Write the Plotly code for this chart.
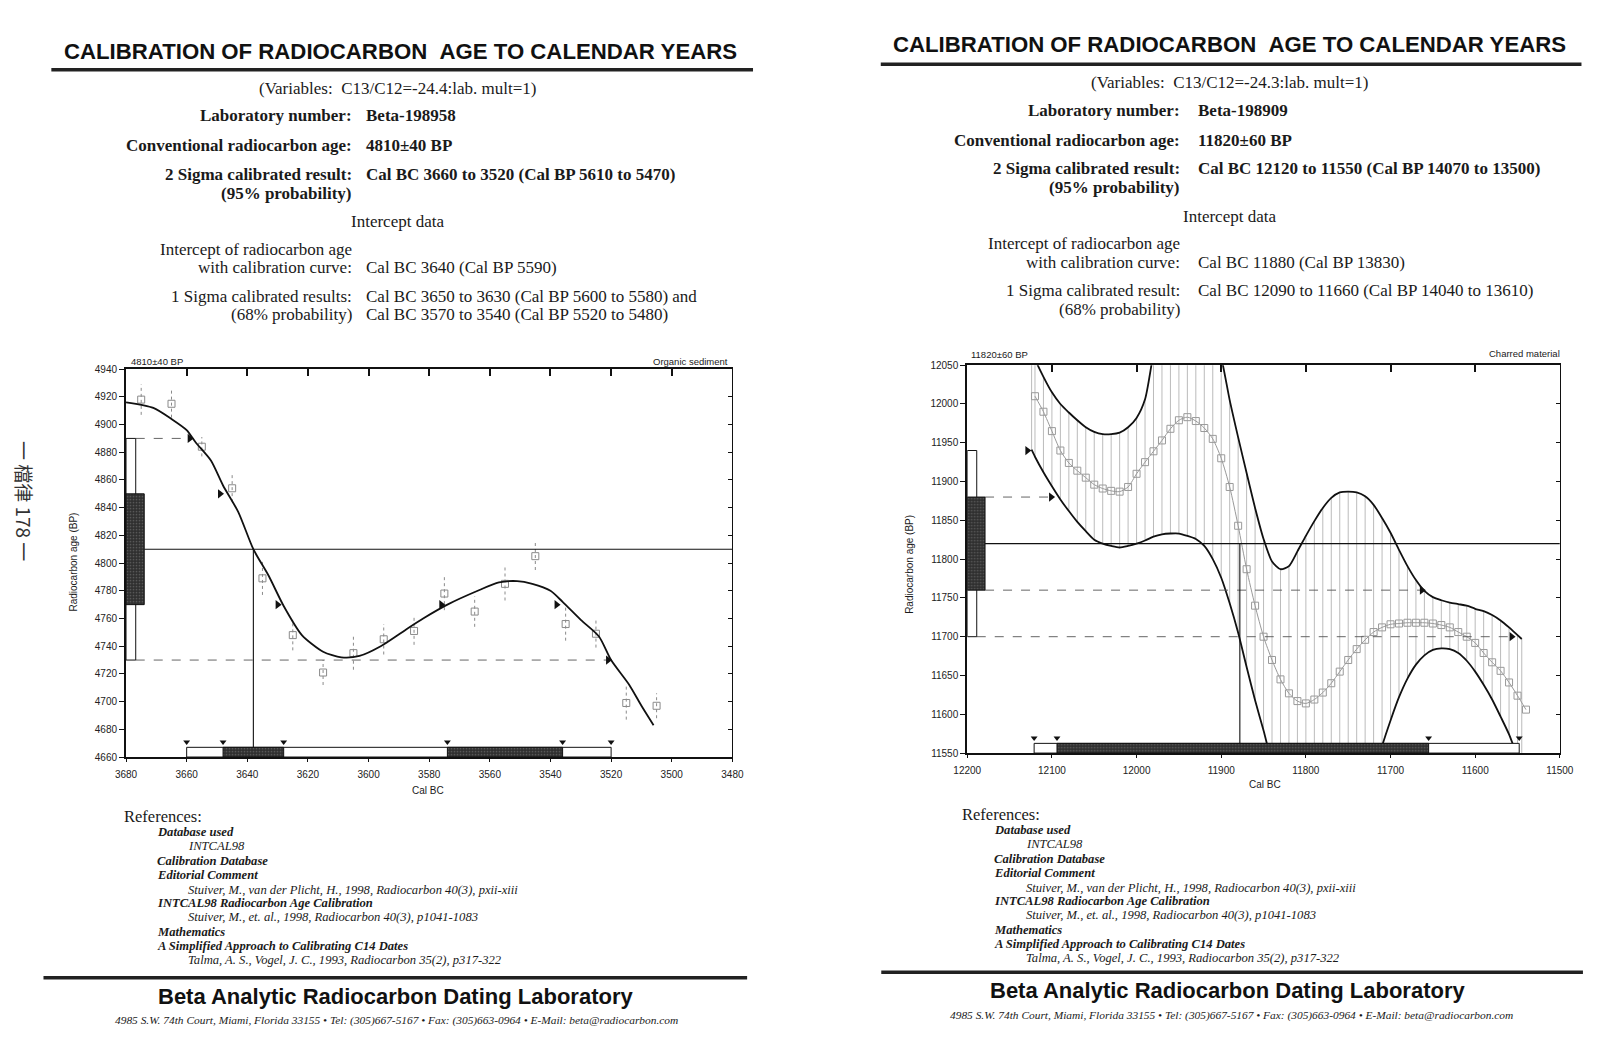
import plotly.graph_objects as go

W, H = 1622, 1048
SERIF = "Liberation Serif, Times New Roman, serif"
SANS = "Liberation Sans, Arial, sans-serif"
CJK = "Noto Sans CJK TC, Noto Sans CJK SC, sans-serif"
INK = "#1a1a1a"

# ======================= DATA : left report (Beta-198958) =======================
TITLE = "CALIBRATION OF RADIOCARBON\u00a0\u00a0AGE TO CALENDAR YEARS"
L_variables = "(Variables:\u00a0\u00a0C13/C12=-24.4:lab. mult=1)"
L_lab = "Beta-198958"
L_conv = "4810±40 BP"
L_sig2_txt = "Cal BC 3660 to 3520 (Cal BP 5610 to 5470)"
L_int_txt = "Cal BC 3640 (Cal BP 5590)"
L_sig1_label = "1 Sigma calibrated results:"
L_sig1_txt = ["Cal BC 3650 to 3630 (Cal BP 5600 to 5580) and",
              "Cal BC 3570 to 3540 (Cal BP 5520 to 5480)"]
L_material = "Organic sediment"

L_age, L_sigma = 4810, 40
L_xrange = [3680, 3480]
L_yrange = [4660, 4940]
L_xticks = [3680, 3660, 3640, 3620, 3600, 3580, 3560, 3540, 3520, 3500, 3480]
L_yticks = [4660, 4680, 4700, 4720, 4740, 4760, 4780, 4800, 4820, 4840, 4860,
            4880, 4900, 4920, 4940]
L_curve_year = [3680, 3671, 3665, 3660, 3657, 3652, 3648, 3643, 3638, 3633, 3628,
                3622, 3615, 3609, 3603, 3596, 3587, 3582, 3574, 3564, 3557, 3551,
                3546, 3540, 3536, 3530, 3524, 3520, 3514, 3510, 3506]
L_curve_age = [4916, 4912, 4904, 4896, 4887, 4874, 4856, 4837, 4810, 4791, 4769,
               4748, 4736, 4732, 4733, 4740, 4753, 4760, 4770, 4780, 4786, 4787,
               4785, 4780, 4772, 4759, 4747, 4730, 4712, 4697, 4683]
L_dec_year = [3675, 3665, 3655, 3645, 3635, 3625, 3615, 3605, 3595, 3585, 3575,
              3565, 3555, 3545, 3535, 3525, 3515, 3505]
L_dec_age = [4918, 4915, 4884, 4854, 4789, 4748, 4721, 4735, 4745, 4751, 4778,
             4765, 4785, 4805, 4756, 4749, 4699, 4697]
L_dec_err = [11, 10, 7, 10, 12, 11, 9, 12, 11, 10, 12, 11, 12, 10, 12, 10, 12, 9]
L_intercept = 3638
L_sig2_ranges = [[3660, 3520]]
L_sig1_ranges = [[3648, 3628], [3574, 3536]]
L_arrow_year = [3659, 3649, 3630, 3576, 3538, 3521]
L_arrow_age = [4890, 4850, 4770, 4770, 4770, 4730]
L_dash_age = [4890, 4730]
L_dash_end = [3659, 3521]

# ======================= DATA : right report (Beta-198909) =======================
R_variables = "(Variables:\u00a0\u00a0C13/C12=-24.3:lab. mult=1)"
R_lab = "Beta-198909"
R_conv = "11820±60 BP"
R_sig2_txt = "Cal BC 12120 to 11550 (Cal BP 14070 to 13500)"
R_int_txt = "Cal BC 11880 (Cal BP 13830)"
R_sig1_label = "1 Sigma calibrated result:"
R_sig1_txt = ["Cal BC 12090 to 11660 (Cal BP 14040 to 13610)", ""]
R_material = "Charred material"

R_age, R_sigma = 11820, 60
R_xrange = [12200, 11500]
R_yrange = [11550, 12050]
R_xticks = [12200, 12100, 12000, 11900, 11800, 11700, 11600, 11500]
R_yticks = [11550, 11600, 11650, 11700, 11750, 11800, 11850, 11900, 11950, 12000, 12050]
R_env_year = [12124, 12120, 12110, 12100, 12090, 12080, 12070, 12060, 12050, 12040,
              12030, 12020, 12010, 12000, 11990, 11980, 11970, 11960, 11950, 11940,
              11930, 11920, 11910, 11900, 11890, 11880, 11870, 11860, 11850, 11840,
              11830, 11820, 11810, 11800, 11790, 11780, 11770, 11760, 11750, 11740,
              11730, 11720, 11710, 11700, 11690, 11680, 11670, 11660, 11650, 11640,
              11630, 11620, 11610, 11600, 11590, 11580, 11570, 11560, 11550, 11545]
R_upper = [12075, 12058, 12035, 12015, 12000, 11989, 11979, 11970, 11964, 11961,
           11961, 11963, 11970, 11982, 12006, 12065, 12110, 12140, 12160, 12165,
           12155, 12130, 12095, 12060, 12005, 11957, 11911, 11866, 11826, 11797,
           11787, 11791, 11810, 11830, 11849, 11866, 11879, 11886, 11887, 11886,
           11881, 11870, 11853, 11834, 11812, 11791, 11773, 11759, 11751, 11747,
           11744, 11742, 11740, 11736, 11733, 11728, 11721, 11712, 11702, 11697]
R_lower = [11941, 11932, 11912, 11894, 11877, 11862, 11848, 11836, 11825, 11820,
           11817, 11815, 11817, 11820, 11824, 11829, 11832, 11833, 11833, 11830,
           11826, 11817, 11800, 11776, 11743, 11705, 11661, 11618, 11579, 11537,
           11505, 11480, 11460, 11445, 11435, 11430, 11430, 11435, 11445, 11462,
           11487, 11520, 11559, 11592, 11622, 11646, 11664, 11676, 11683, 11685,
           11684, 11679, 11669, 11655, 11638, 11619, 11597, 11574, 11545, 11530]
R_curve_year = [12120, 12110, 12100, 12090, 12080, 12070, 12060, 12050, 12040, 12030,
                12020, 12010, 12000, 11990, 11980, 11970, 11960, 11950, 11940, 11930,
                11920, 11910, 11900, 11890, 11880, 11870, 11860, 11850, 11840, 11830,
                11820, 11810, 11800, 11790, 11780, 11770, 11760, 11750, 11740, 11730,
                11720, 11710, 11700, 11690, 11680, 11670, 11660, 11650, 11640, 11630,
                11620, 11610, 11600, 11590, 11580, 11570, 11560, 11550, 11540]
R_curve_age = [12010, 11990, 11965, 11940, 11924, 11914, 11905, 11896, 11891, 11888,
               11887, 11893, 11910, 11925, 11939, 11953, 11968, 11979, 11983, 11978,
               11969, 11955, 11930, 11893, 11843, 11787, 11740, 11700, 11670, 11645,
               11627, 11617, 11614, 11619, 11628, 11640, 11655, 11670, 11684, 11696,
               11706, 11712, 11716, 11717, 11718, 11718, 11718, 11717, 11715, 11712,
               11706, 11700, 11692, 11679, 11667, 11656, 11641, 11624, 11606]
R_intercept = 11878
R_sig2_ranges = [[12121, 11548]]
R_sig1_ranges = [[12094, 11655]]
R_arrow_year = [12129, 12101, 11663, 11557]
R_arrow_age = [11940, 11880, 11760, 11700]
R_dash_age = [11880, 11760, 11700]
R_dash_end = [12101, 11663, 11557]

REF_LINES = [
    ("<b><i>Database used</i></b>", 1),
    ("<i>INTCAL98</i>", 2),
    ("<b><i>Calibration Database</i></b>", 1),
    ("<b><i>Editorial Comment</i></b>", 1),
    ("<i>Stuiver, M., van der Plicht, H., 1998, Radiocarbon 40(3), pxii-xiii</i>", 2),
    ("<b><i>INTCAL98 Radiocarbon Age Calibration</i></b>", 1),
    ("<i>Stuiver, M., et. al., 1998, Radiocarbon 40(3), p1041-1083</i>", 2),
    ("<b><i>Mathematics</i></b>", 1),
    ("<b><i>A Simplified Approach to Calibrating C14 Dates</i></b>", 1),
    ("<i>Talma, A. S., Vogel, J. C., 1993, Radiocarbon 35(2), p317-322</i>", 2),
]
FOOTER = "Beta Analytic Radiocarbon Dating Laboratory"
ADDRESS = ("<i>4985 S.W. 74th Court, Miami, Florida 33155 • Tel: (305)667-5167 • "
           "Fax: (305)663-0964 • E-Mail: beta@radiocarbon.com</i>")
SIDE_TEXT = "一 檔律 178 一"

# ======================= helpers =======================
annotations, shapes = [], []


def A(x, y, text, size=17, family=SERIF, xanchor="left", color=INK, angle=0):
    annotations.append(dict(x=x / W, y=1 - y / H, xref="paper", yref="paper", text=text,
                            showarrow=False, xanchor=xanchor, yanchor="middle",
                            textangle=angle, font=dict(family=family, size=size, color=color)))


def rule(x0, x1, y, width=3.5):
    shapes.append(dict(type="line", xref="paper", yref="paper", x0=x0 / W, x1=x1 / W,
                       y0=1 - y / H, y1=1 - y / H, line=dict(color="#222", width=width)))


def page(p, variables, lab, conv, sig2, inttxt, sig1_label, sig1):
    A(p["tx"], p["ty"], "<b>" + TITLE + "</b>", size=22.2, family=SANS, xanchor="center", color="#111")
    rule(p["r1"][0], p["r1"][1], p["r1"][2])
    dy, lx, vx, cx = p["dy"], p["lx"], p["vx"], p["cx"]
    A(cx, 87 + dy, variables, xanchor="center")
    A(lx, 115 + dy, "<b>Laboratory number:</b>", xanchor="right")
    A(vx, 115 + dy, "<b>" + lab + "</b>")
    A(lx, 145 + dy, "<b>Conventional radiocarbon age:</b>", xanchor="right")
    A(vx, 145 + dy, "<b>" + conv + "</b>")
    A(lx, 174 + dy, "<b>2 Sigma calibrated result:</b>", xanchor="right")
    A(vx, 174 + dy, "<b>" + sig2 + "</b>")
    A(lx, 193 + dy, "<b>(95% probability)</b>", xanchor="right")
    A(cx, 222 + dy, "Intercept data", xanchor="center")
    A(lx, 250 + dy, "Intercept of radiocarbon age", xanchor="right")
    A(lx, 268.5 + dy, "with calibration curve:", xanchor="right")
    A(vx, 268.5 + dy, inttxt)
    A(lx, 297.5 + dy, sig1_label, xanchor="right")
    A(vx, 297.5 + dy, sig1[0])
    A(lx, 316 + dy, "(68% probability)", xanchor="right")
    if sig1[1]:
        A(vx, 316 + dy, sig1[1])
    rdx, rdy = p["rdx"], p["rdy"]
    A(124.5 + rdx, 820 + rdy, "References:", size=16.5)
    ref_y = [836, 850, 865, 879, 894, 908, 922, 936.5, 951, 965.5]
    for (txt, lvl), yy in zip(REF_LINES, ref_y):
        A((157.5 if lvl == 1 else 190) + rdx, yy + rdy, txt, size=12.6)
    rule(p["r2"][0], p["r2"][1], p["r2"][2])
    A(p["fx"], p["fy"], "<b>" + FOOTER + "</b>", size=22, family=SANS, xanchor="center", color="#111")
    A(p["ax"], p["ay"], ADDRESS, size=11.4, xanchor="center")


traces = []


def box(xa, ya, x0, x1, y0, y1, dark):
    t = go.Scatter(x=[x0, x1, x1, x0, x0], y=[y0, y0, y1, y1, y0], mode="lines",
                   fill="toself", xaxis=xa, yaxis=ya, hoverinfo="skip",
                   line=dict(color="#111", width=1))
    if dark:
        t.fillcolor = "#333333"
        t.fillpattern = dict(shape=".", bgcolor="#2f2f2f", fgcolor="#8c8c8c", size=3, solidity=0.25)
    else:
        t.fillcolor = "white"
    traces.append(t)


def line(xa, ya, xs, ys, color="#111", width=1.0, dash="solid", shape="linear", mode="lines",
         marker=None):
    t = go.Scatter(x=xs, y=ys, mode=mode, xaxis=xa, yaxis=ya, hoverinfo="skip",
                   line=dict(color=color, width=width, dash=dash, shape=shape, smoothing=0.7))
    if marker:
        t.marker = marker
    traces.append(t)


def overlay(xa, ya, xr, yr, age, sigma, intercept, sig2, sig1, arr_x, arr_y, dash_age, dash_end):
    xs = xr[1] - xr[0]
    ys = yr[1] - yr[0]
    x_white = xr[0] + 0.016 * xs
    x_dark = xr[0] + 0.03 * xs
    bar_top = yr[0] + 0.025 * ys
    line(xa, ya, [x_dark, xr[1]], [age, age], width=1.1)
    for a, e in zip(dash_age, dash_end):
        start = x_dark if abs(a - age) <= sigma else x_white
        line(xa, ya, [start, e], [a, a], color="#555", width=0.9, dash="dash")
    line(xa, ya, [intercept, intercept], [age, bar_top], width=1.1)
    box(xa, ya, xr[0], x_white, age - 2 * sigma, age + 2 * sigma, False)
    box(xa, ya, xr[0], x_dark, age - sigma, age + sigma, True)
    for r in sig2:
        box(xa, ya, r[0], r[1], yr[0], bar_top, False)
    for r in sig1:
        box(xa, ya, r[0], r[1], yr[0], bar_top, True)
    ends = [v for r in sig2 + sig1 for v in r]
    line(xa, ya, ends, [bar_top + 0.014 * ys] * len(ends), mode="markers",
         marker=dict(symbol="triangle-down", size=6, color="#111"))
    line(xa, ya, arr_x, arr_y, mode="markers",
         marker=dict(symbol="triangle-right", size=8, color="#111"))


# ======================= left chart =======================
ex, ey = [], []
for x, v, e in zip(L_dec_year, L_dec_age, L_dec_err):
    ex += [x, x, None]
    ey += [v - e, v + e, None]
line("x", "y", ex, ey, color="#8a8a8a", width=1, dash="dot")
line("x", "y", L_dec_year, L_dec_age, mode="markers",
     marker=dict(symbol="square-open", size=7, color="#8a8a8a", line=dict(width=1)))
line("x", "y", L_curve_year, L_curve_age, width=1.8, shape="spline")
overlay("x", "y", L_xrange, L_yrange, L_age, L_sigma, L_intercept, L_sig2_ranges,
        L_sig1_ranges, L_arrow_year, L_arrow_age, L_dash_age, L_dash_end)

# ======================= right chart =======================
hx, hy = [], []
for x, lo, hi in zip(R_env_year, R_lower, R_upper):
    hx += [x, x, None]
    hy += [lo, hi, None]
line("x2", "y2", hx, hy, color="#b3b3b3", width=0.9)
line("x2", "y2", R_curve_year, R_curve_age, color="#999999", width=1, shape="spline",
     mode="lines+markers",
     marker=dict(symbol="square-open", size=7, color="#9a9a9a", line=dict(width=1)))
line("x2", "y2", R_env_year, R_upper, width=1.8, shape="spline")
line("x2", "y2", R_env_year, R_lower, width=1.8, shape="spline")
overlay("x2", "y2", R_xrange, R_yrange, R_age, R_sigma, R_intercept, R_sig2_ranges,
        R_sig1_ranges, R_arrow_year, R_arrow_age, R_dash_age, R_dash_end)

traces.append(go.Scatter(x=[None], y=[None], xaxis="x3", yaxis="y3", hoverinfo="skip"))
traces.append(go.Scatter(x=[None], y=[None], xaxis="x4", yaxis="y4", hoverinfo="skip"))

fig = go.Figure(traces)

# ======================= page texts =======================
LEFT_PAGE = dict(tx=393, ty=47, r1=(38, 752, 65.5), dy=-3, lx=345.5, vx=356.6, cx=390.7,
                 rdx=-14.5, rdy=0, r2=(30, 746, 983), fx=388, fy=1002, ax=389, ay=1026.5)
RIGHT_PAGE = dict(tx=1237, ty=39.5, r1=(882, 1595, 60), dy=-8.5, lx=1188.5, vx=1203, cx=1237,
                  rdx=838, rdy=-2, r2=(882.5, 1596.5, 977.5), fx=1235, fy=995.5,
                  ax=1239, ay=1021)
page(LEFT_PAGE, L_variables, L_lab, L_conv, L_sig2_txt, L_int_txt, L_sig1_label, L_sig1_txt)
page(RIGHT_PAGE, R_variables, R_lab, R_conv, R_sig2_txt, R_int_txt, R_sig1_label, R_sig1_txt)

# chart captions
A(117, 360, L_conv, size=9.5, family=SANS)
A(729, 360, L_material, size=9.5, family=SANS, xanchor="right")
A(60.5, 563, "Radiocarbon age (BP)", size=10, family=SANS, xanchor="center", angle=-90)
A(421, 794, "Cal BC", size=10, family=SANS, xanchor="center")
A(972, 353.5, R_conv, size=9.5, family=SANS)
A(1575, 352.5, R_material, size=9.5, family=SANS, xanchor="right")
A(910.5, 565, "Radiocarbon age (BP)", size=10, family=SANS, xanchor="center", angle=-90)
A(1273, 788, "Cal BC", size=10, family=SANS, xanchor="center")
A(10, 501, SIDE_TEXT, size=19, family=CJK, xanchor="center", angle=90, color="#333")

# ======================= axes =======================
TICKFONT = dict(family=SANS, size=10, color="#222")
LX = [114 / W, 731 / W]
LY = [1 - 760 / H, 1 - 368 / H]
RX = [970 / W, 1573 / W]
RY = [1 - 756 / H, 1 - 364 / H]


def xaxis(domain, rng, ticks, anchor):
    return dict(domain=domain, range=rng, tickvals=ticks, tickformat="d", anchor=anchor,
                showline=True, linecolor="#111", linewidth=2, ticks="outside", ticklen=3,
                tickcolor="#111", tickfont=TICKFONT, showgrid=False, zeroline=False,
                ticklabelstandoff=4, fixedrange=True)


def yaxis(domain, rng, ticks, anchor):
    return dict(domain=domain, range=rng, tickvals=ticks, tickformat="d", anchor=anchor,
                showline=True, linecolor="#111", linewidth=2, ticks="outside", ticklen=5,
                tickcolor="#111", tickfont=TICKFONT, showgrid=False, zeroline=False,
                fixedrange=True)


def xtop(over, rng, ticks, anchor):
    return dict(overlaying=over, side="top", range=rng, tickvals=ticks, anchor=anchor,
                showline=True, linecolor="#111", linewidth=2, ticks="inside", ticklen=7,
                tickwidth=1.5, tickcolor="#111", showticklabels=False, showgrid=False,
                zeroline=False, fixedrange=True)


def yright(over, rng, ticks, anchor):
    return dict(overlaying=over, side="right", range=rng, tickvals=ticks, anchor=anchor,
                showline=True, linecolor="#111", linewidth=1.2, ticks="inside", ticklen=4,
                tickcolor="#111", showticklabels=False, showgrid=False, zeroline=False,
                fixedrange=True)


fig.update_layout(
    width=W, height=H, margin=dict(l=0, r=0, t=0, b=0),
    paper_bgcolor="white", plot_bgcolor="white", showlegend=False,
    xaxis=xaxis(LX, L_xrange, L_xticks, "y"),
    yaxis=yaxis(LY, L_yrange, L_yticks, "x"),
    xaxis3=xtop("x", L_xrange, L_xticks, "y"),
    yaxis3=yright("y", L_yrange, L_yticks, "x"),
    xaxis2=xaxis(RX, R_xrange, R_xticks, "y2"),
    yaxis2=yaxis(RY, R_yrange, R_yticks, "x2"),
    xaxis4=xtop("x2", R_xrange, R_xticks, "y2"),
    yaxis4=yright("y2", R_yrange, R_yticks, "x2"),
    annotations=annotations, shapes=shapes,
)

fig.write_html("out.html", config={"displayModeBar": False},
               post_script="document.body.style.margin='0';document.body.style.overflow='hidden';")
